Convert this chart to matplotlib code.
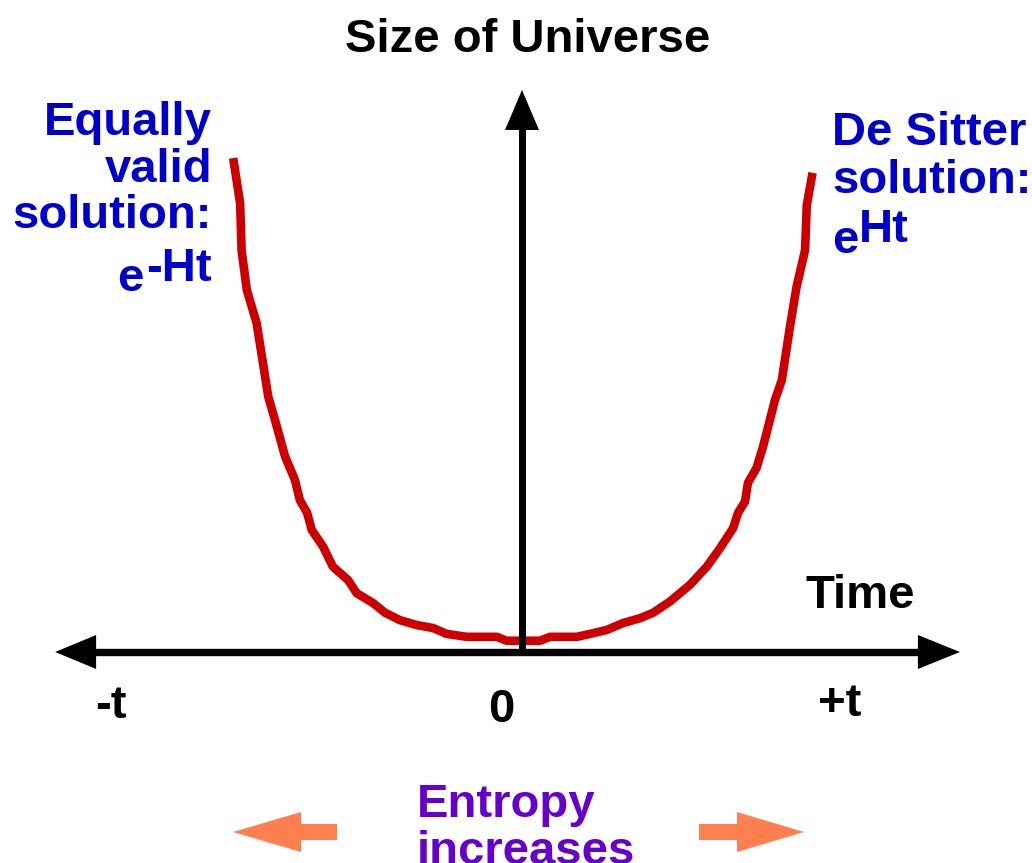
import matplotlib.pyplot as plt
from matplotlib.patches import Polygon
from matplotlib.transforms import Affine2D, ScaledTranslation

# Red curve: size of universe vs time (time in units of t, size in arbitrary units)
time = [-0.996, -0.972, -0.967, -0.949, -0.915, -0.875, -0.852, -0.817, -0.783, -0.766,
        -0.741, -0.725, -0.686, -0.652, -0.600, -0.570, -0.514, -0.472, -0.421, -0.363,
        -0.307, -0.260, -0.191, -0.087, -0.053, -0.007, 0.062, 0.097, 0.189, 0.235,
        0.292, 0.348, 0.407, 0.452, 0.510, 0.579, 0.637, 0.683, 0.728, 0.745,
        0.769, 0.779, 0.809, 0.831, 0.855, 0.872, 0.896, 0.924, 0.947, 0.976,
        0.982, 1.002]
size = [1.008, 0.916, 0.820, 0.739, 0.671, 0.521, 0.474, 0.399, 0.351, 0.310,
        0.284, 0.249, 0.215, 0.174, 0.147, 0.120, 0.100, 0.080, 0.065, 0.055,
        0.049, 0.037, 0.031, 0.031, 0.023, 0.023, 0.023, 0.031, 0.031, 0.037,
        0.045, 0.059, 0.069, 0.080, 0.103, 0.137, 0.174, 0.212, 0.253, 0.284,
        0.307, 0.345, 0.376, 0.419, 0.474, 0.514, 0.555, 0.664, 0.746, 0.820,
        0.912, 0.978]

tick_labels = ['-t', '0', '+t']
left_label = ['Equally', 'valid', 'solution:']
right_label = ['De Sitter', 'solution:']

FONT = 'Liberation Sans'
FS = 34
RED = '#CC0000'
BLUE = '#0000CC'
PURPLE = '#6600CC'
ORANGE = '#FF7F50'

fig = plt.figure(figsize=(10.32, 8.63), dpi=100)
ax = fig.add_axes([0, 0, 1, 1])
ax.set_xlim(-1.8, 1.7586)
ax.set_ylim(-0.4306, 1.3306)
ax.axis('off')

# pixel coords measured from the top-left corner
px = Affine2D().scale(0.01, -0.01).translate(0, 8.63) + fig.dpi_scale_trans


def head(x, y, verts, color='black'):
    # triangle with vertices given in pixels relative to the tip at data (x, y)
    tr = fig.dpi_scale_trans + ScaledTranslation(x, y, ax.transData)
    pts = [(vx / 100, vy / 100) for vx, vy in verts]
    ax.add_patch(Polygon(pts, closed=True, color=color, transform=tr, lw=0, zorder=4))


# axes with arrows
t_left, t_right, s_top = -1.61, 1.51, 1.147
ax.plot([t_left + 0.08, t_right - 0.08], [0, 0], color='black', lw=5.3,
        solid_capstyle='butt', zorder=3)
ax.plot([0, 0], [0, s_top - 0.05], color='black', lw=5.0,
        solid_capstyle='butt', zorder=3)
head(t_left, 0, [(0, 0), (41, 17), (41, -17)])
head(t_right, 0, [(0, 0), (-42, 17), (-42, -17)])
head(0, s_top, [(0, 0), (-17, -40), (17, -40)])

# the curve
ax.plot(time, size, color=RED, lw=6.2, solid_joinstyle='round',
        solid_capstyle='butt', zorder=2)

txt = dict(fontfamily=FONT, fontweight='bold', fontsize=FS, transform=px, va='baseline')

ax.text(528, 52, 'Size of Universe', ha='center', color='black', **txt)
ax.text(805, 608, 'Time', ha='left', color='black', **txt)
for lab, x, y in zip(tick_labels, [111, 501, 840], [718, 722, 716]):
    ax.text(x, y, lab, ha='center', color='black', **txt)

# left label, right aligned
for i, line in enumerate(left_label):
    ax.text(212, 135 + 46.5 * i, line, ha='right', color=BLUE, **txt)
sup_l = ax.text(212, 281, '-Ht', ha='right', color=BLUE, **txt)
ax.annotate('e', xy=(0, 0), xycoords=sup_l, xytext=(-2, -7.2), textcoords='offset points',
            ha='right', va='bottom', color=BLUE, fontfamily=FONT, fontweight='bold',
            fontsize=FS)

# right label, left aligned
for i, line in enumerate(right_label):
    ax.text(832, 145 + 48 * i, line, ha='left', color=BLUE, **txt)
base_r = ax.text(832, 253, 'e', ha='left', color=BLUE, **txt)
ax.annotate('Ht', xy=(1, 0), xycoords=base_r, xytext=(0, 8), textcoords='offset points',
            ha='left', va='bottom', color=BLUE, fontfamily=FONT, fontweight='bold',
            fontsize=FS)

# entropy note (second line runs off the bottom edge, as in the original slide)
ax.text(417, 817, 'Entropy', ha='left', color=PURPLE, **txt)
ax.text(417, 864, 'increases', ha='left', color=PURPLE, **txt)

ax.add_patch(Polygon([(233, 832), (301, 812), (301, 824), (337, 824), (337, 840),
                      (301, 840), (301, 852)], closed=True, color=ORANGE, lw=0,
                     transform=px))
ax.add_patch(Polygon([(804, 832), (737, 812), (737, 824), (699, 824), (699, 840),
                      (737, 840), (737, 852)], closed=True, color=ORANGE, lw=0,
                     transform=px))

fig.savefig('out.png', dpi=100)
